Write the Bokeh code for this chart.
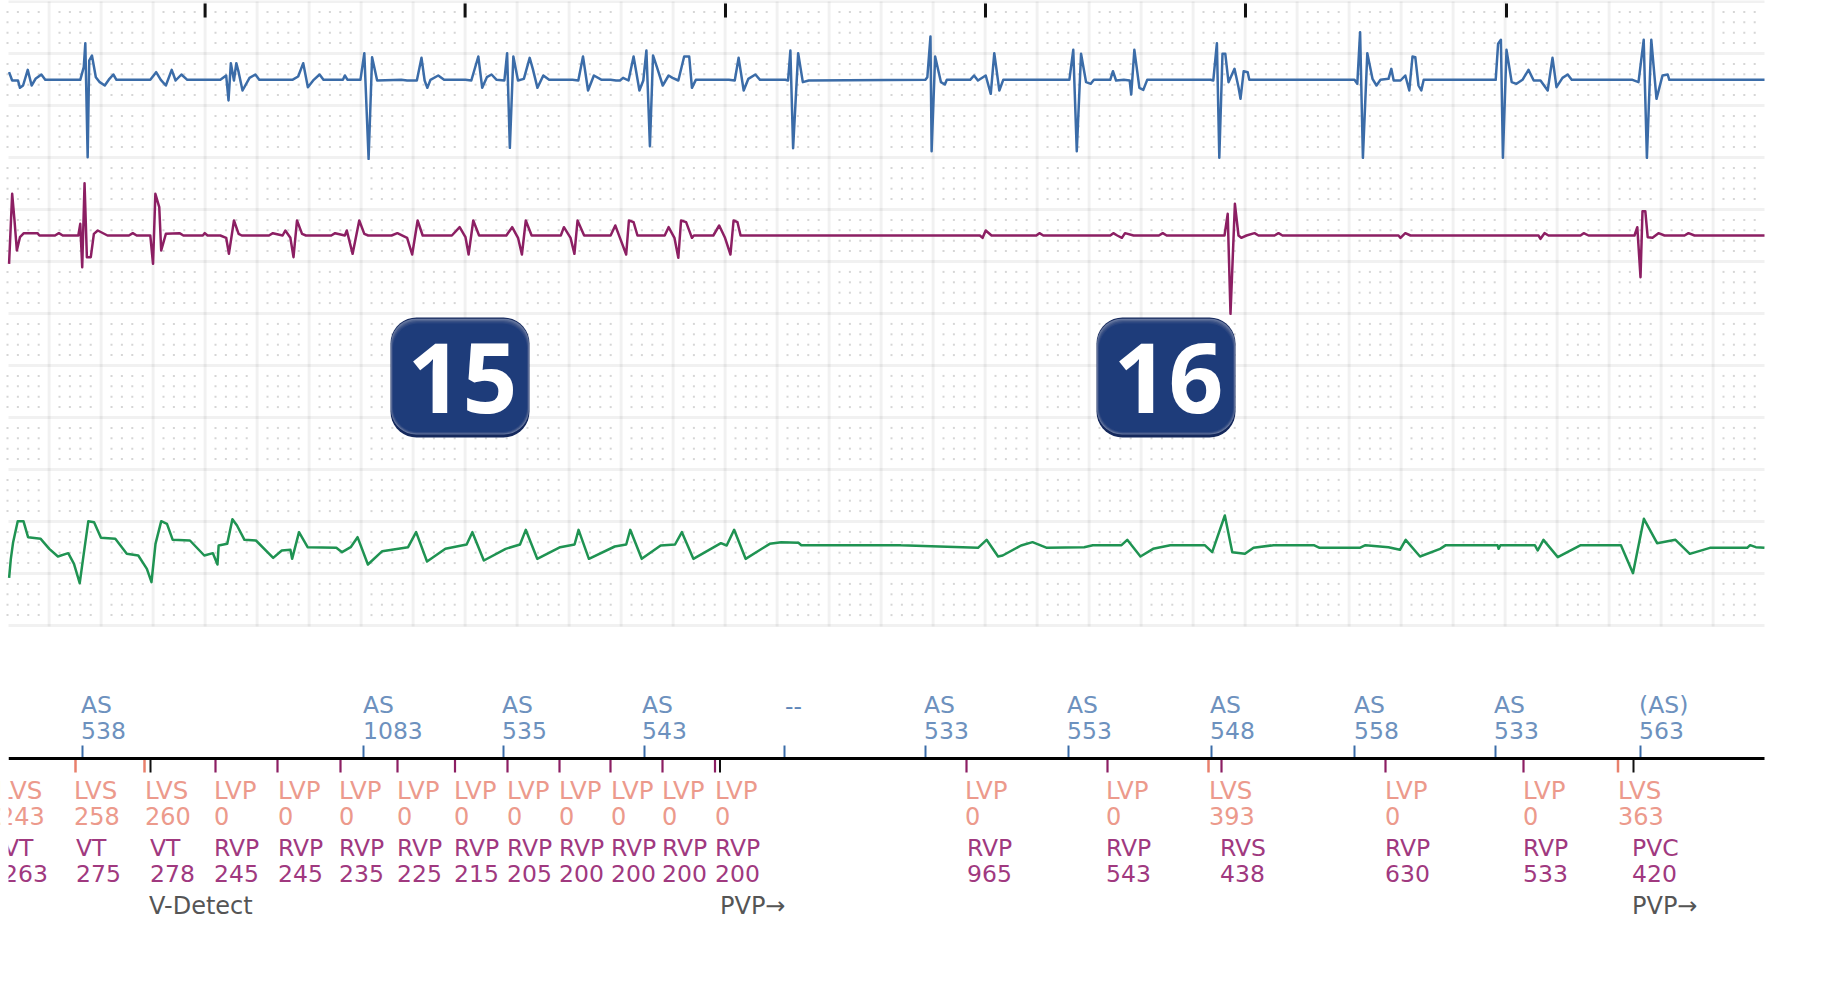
import numpy as np
from bokeh.plotting import figure
from bokeh.models import Range1d
from bokeh.core.properties import value
from bokeh.embed import file_html
from bokeh.resources import INLINE

# --- traces: (time, level) read strip by strip from the recording
blue_t1 = [22,30,45,50,58,70,80,90,105,115,205,214,218,224,228,235,245,255,268,280,290,298,385,400,412,425,440,450,465,480,565,580,586,592,600,606,612,622,640,655,665,750,765,778,790,805,820,830,880,885,892,925,935,946,955,968,1030,1045,1070,1082,1090,1097,1105,1125,1140,1195,1210,1228,1238,1250,1262,1275,1295,1302,1309,1318,1330,1345,1360,1368,1380,1395,1410,1470,1485,1497,1510,1525,1545,1568]
blue_v1 = [215,240,240,262,255,208,255,235,222,238,238,200,128,470,180,165,230,245,255,235,222,238,238,215,238,255,208,240,222,238,238,225,300,188,240,188,215,270,232,222,238,238,228,188,260,238,222,238,238,225,238,238,158,475,170,240,238,240,240,172,240,262,238,225,238,238,240,168,262,230,222,238,240,158,442,168,240,235,172,205,262,225,238,238,240,168,270,225,238,238]
blue_t2 = [26,40,50,58,72,85,92,100,110,118,127,135,145,160,175,185,200,215,228,235,245,330,345,355,368,380,398,410,475,482,488,495,508,520,535,835,840,848,851,860,875,885,890,950,960,970,990,1003,1012,1025,1035,1205,1215,1224,1235,1248,1260,1268,1310,1317,1325,1345,1360,1364,1372,1385,1395,1405,1568]
blue_v2 = [238,240,240,232,240,168,215,270,240,150,437,165,200,255,225,232,240,168,168,262,238,238,240,172,270,235,222,238,238,240,150,443,158,245,240,238,230,108,452,168,245,252,238,238,225,240,225,280,158,270,238,238,148,452,160,245,250,238,238,212,240,238,240,282,148,262,268,238,238]
blue_t3 = [25,32,41,47,55,62,70,85,95,100,108,118,122,385,392,399,406,417,430,440,450,470,477,483,500,512,522,530,537,545,552,558,738,744,751,756,765,778,790,805,820,833,850,868,880,890,905,918,928,1080,1095,1108,1116,1127,1140,1155,1168,1172,1410]
blue_v3 = [238,240,128,472,160,160,245,205,260,295,212,215,238,238,250,95,472,158,235,255,238,235,205,240,240,225,270,168,170,255,270,238,238,130,118,472,148,245,250,238,208,240,240,270,172,260,232,222,238,238,245,118,472,118,295,225,222,238,238]

wine_t1 = [22,30,36,42,50,60,95,100,140,150,160,200,205,210,216,222,232,240,250,275,330,340,350,385,392,398,408,413,425,460,470,520,525,532,565,580,587,600,612,620,690,700,725,732,745,753,762,775,785,850,860,885,890,905,922,935,945,1005,1020,1045,1058,1072,1085,1160,1180,1195,1203,1215,1230,1300,1315,1330,1340,1350,1365,1440,1448,1465,1475,1483,1500,1568]
wine_v1 = [790,580,660,750,710,698,698,705,705,698,705,705,670,800,548,770,770,700,690,705,705,698,705,705,790,580,620,750,700,698,705,705,698,705,705,712,760,660,700,705,705,698,705,690,712,770,660,700,705,705,698,705,690,760,660,700,705,705,698,712,762,660,705,705,680,710,762,660,705,705,680,712,762,660,705,705,680,712,760,660,705,705]
wine_t2 = [26,38,50,66,73,85,95,165,175,190,200,207,220,235,240,290,305,320,334,342,352,360,975,982,990,1005,1120,1128,1138,1310,1318,1328,1340,1348,1370,1435,1445,1455,1568]
wine_v2 = [705,675,712,762,660,665,705,705,680,712,772,660,665,712,705,705,675,712,762,660,665,705,705,712,690,705,705,698,705,705,698,705,712,698,705,705,698,705,705]
wine_t3 = [25,60,68,75,86,95,102,115,135,145,185,195,205,495,500,512,525,845,850,860,870,950,958,970,1085,1092,1100,1105,1112,1118,1130,1145,1160,1210,1220,1235,1410]
wine_v3 = [705,705,640,940,610,705,712,705,698,705,705,698,705,705,712,698,705,705,715,698,705,705,698,705,705,680,830,632,632,710,712,698,705,705,698,705,705]

green_t1 = [15,18,22,30,40,48,70,85,100,118,128,138,145,153,163,175,200,220,240,255,263,270,280,290,300,330,355,370,378,380,395,404,412,425,445,475,490,505,508,520,535,585,595,610,622,640,665,710,724,743,775,812,822,842,880,905,915,935,975,1000,1007,1025,1070,1090,1097,1117,1150,1175,1187,1207,1255,1265,1278,1298,1340,1360,1390,1395,1568]
green_v1 = [232,175,125,62,62,110,115,145,168,158,190,248,160,62,65,112,115,160,165,205,245,130,62,70,118,120,165,158,192,135,130,56,75,118,120,172,150,148,175,95,140,142,155,140,110,192,152,140,95,183,145,132,95,180,145,132,88,175,140,132,88,175,138,132,88,175,135,132,95,175,128,135,88,175,130,125,127,134,134]
green_t2 = [0,135,150,170,178,210,230,255,320,335,385,395,418,440,470,530,543,565,578,600,615,650,720,730,800,810,850,870,880,905,940,950,1040,1042,1045,1105,1110,1120,1145,1185,1255,1276,1295,1318,1350,1375,1410,1475,1480,1490,1505]
green_v2 = [134,142,118,168,165,135,125,142,140,134,134,118,168,145,134,134,155,45,155,160,142,134,134,142,142,134,140,148,118,168,145,134,134,145,134,134,150,118,170,134,134,218,55,128,118,160,142,142,134,140,142]

# --- timeline annotations
as_x = [82, 364, 503, 643, 925, 1068, 1211, 1355, 1495, 1640]
as_top = ["AS", "AS", "AS", "AS", "AS", "AS", "AS", "AS", "AS", "(AS)"]
as_val = ["538", "1083", "535", "543", "533", "553", "548", "558", "533", "563"]
as_tick_x = [82, 363, 503, 644, 784, 925, 1068, 1211, 1354, 1495, 1640]

lv_x = [0, 75, 146, 215, 279, 340, 398, 455, 508, 560, 612, 663, 716, 966, 1107, 1210, 1386, 1524, 1619]
lv_top = ["LVS", "LVS", "LVS", "LVP", "LVP", "LVP", "LVP", "LVP", "LVP", "LVP", "LVP", "LVP", "LVP", "LVP", "LVP", "LVS", "LVP", "LVP", "LVS"]
lv_val = ["243", "258", "260", "0", "0", "0", "0", "0", "0", "0", "0", "0", "0", "0", "0", "393", "0", "0", "363"]

rv_x = [4, 77, 151, 215, 279, 340, 398, 455, 508, 560, 612, 663, 716, 968, 1107, 1221, 1386, 1524, 1633]
rv_top = ["VT", "VT", "VT", "RVP", "RVP", "RVP", "RVP", "RVP", "RVP", "RVP", "RVP", "RVP", "RVP", "RVP", "RVP", "RVS", "RVP", "RVP", "PVC"]
rv_val = ["263", "275", "278", "245", "245", "235", "225", "215", "205", "200", "200", "200", "200", "965", "543", "438", "630", "533", "420"]

note_x = [150, 721, 1633]
note_text = ["V-Detect", "PVP\u2192", "PVP\u2192"]

coral_ticks = [75, 144, 1208, 1617.5]
wine_ticks = [215, 277, 340, 397, 454.5, 507, 559, 610, 662, 714.5, 966, 1107, 1221, 1385, 1523]
black_ticks = [150, 719.5, 1633]
second_ticks = [204.6, 464.6, 725, 985, 1245, 1506]

badge_x = [390, 1096]
badge_label = ["15", "16"]

# --- page frame: data coordinates follow the picture's pixels
L, R, T, B = 8, 1764, 1, 626
MAJOR = 52.0
MINOR = 10.4
p = figure(width=1811, height=991, x_range=Range1d(0, 1811), y_range=Range1d(991, 0),
           x_axis_type=None, y_axis_type=None, toolbar_location=None,
           output_backend="svg", min_border=0, outline_line_color=None,
           background_fill_color="white", border_fill_color="white")
p.grid.visible = False

# paper grid
v_lines = np.arange(48.6, R, MAJOR)
h_lines = np.arange(T, B + 1, MAJOR)
p.segment(v_lines, T, v_lines, B, line_color="#000000", line_alpha=0.055, line_width=3)
p.segment(L, h_lines, R, h_lines, line_color="#000000", line_alpha=0.055, line_width=3)

dx = np.array([x for x in np.arange(48.6 - 4 * MINOR, R - 4, MINOR)
               if abs(((x - 48.6) / MAJOR) - round((x - 48.6) / MAJOR)) > 0.05])
dy = np.array([y for y in np.arange(T, B, MINOR)
               if abs(((y - T) / MAJOR) - round((y - T) / MAJOR)) > 0.05])
gx, gy = np.meshgrid(dx, dy)
p.scatter(gx.ravel(), gy.ravel(), size=2, marker="square", fill_color="#d6d6d6", line_color=None)

# second ticks
p.segment(second_ticks, 3, second_ticks, 17, line_color="#111111", line_width=3)


def px(t1, t2, t3):
    return np.concatenate([np.array(t1) / 2.57, 600 + np.array(t2) / 2.57, 1200 + np.array(t3) / 2.5])


p.line(px(blue_t1, blue_t2, blue_t3), np.array(blue_v1 + blue_v2 + blue_v3) / 3,
       line_color="#3b6ca8", line_width=2.5, line_join="round")
p.line(px(wine_t1, wine_t2, wine_t3), np.array(wine_v1 + wine_v2 + wine_v3) / 3,
       line_color="#8c1f63", line_width=2.5, line_join="round")
p.line(np.concatenate([np.array(green_t1) / 1.742, 900 + np.array(green_t2) / 1.742]),
       500 + np.array(green_v1 + green_v2) / 3,
       line_color="#1f9352", line_width=2.5, line_join="round")


# badges
def rounded(l, r, t, b, rad):
    a = np.linspace(0, np.pi / 2, 10)
    xs = np.concatenate([r - rad + rad * np.sin(a), r - rad + rad * np.cos(a),
                         l + rad - rad * np.sin(a), l + rad - rad * np.cos(a)])
    ys = np.concatenate([t + rad - rad * np.cos(a), b - rad + rad * np.sin(a),
                         b - rad + rad * np.cos(a), t + rad - rad * np.sin(a)])
    return xs, ys


shades = ["#14285c", "#66779f", "#4f6391", "#3a5185", "#2a4580", "#1e3c7a"]
for bx, lab in zip(badge_x, badge_label):
    for i, c in enumerate(shades):
        if i == 0:
            xs, ys = rounded(bx, bx + 139, 317, 437, 26)
        else:
            xs, ys = rounded(bx + 0.5 * i, bx + 139 - 0.5 * i, 317 + 1.2 * i, 437 - 2.5 - 0.6 * i, 25)
        p.patch(xs, ys, fill_color=c, line_color=None)
    p.text([bx + 72], [377], text=[lab], text_color="white", text_align="center", text_baseline="middle",
           text_font=value("Open Sans"), text_font_style="bold", text_font_size="96px")

# timeline
TL = 758
p.segment(as_tick_x, 745, as_tick_x, TL, line_color="#3b6ca8", line_width=2)
p.segment(coral_ticks, TL, coral_ticks, 772, line_color="#e8806c", line_width=2.5)
p.segment(wine_ticks, TL, wine_ticks, 772, line_color="#8c1f63", line_width=2.2)
p.segment(black_ticks, TL, black_ticks, 772, line_color="#111111", line_width=2)
p.line([L, R], [TL, TL], line_color="#000000", line_width=3)

FONT = value("DejaVu Sans")


def labels(x, y, text, color, size="23.5px"):
    p.text([v - 1.5 for v in x], [y] * len(x), text=text, text_color=color, text_align="left",
           text_baseline="middle", text_font=FONT, text_font_size=size)


labels(as_x, 704, as_top, "#6d91be")
labels(as_x, 730, as_val, "#6d91be")
labels([786], 705, ["--"], "#5f86b8")
labels(lv_x, 790, lv_top, "#ec9a8c", "24.5px")
labels(lv_x, 815, lv_val, "#ec9a8c", "24px")
labels(rv_x, 847, rv_top, "#a0397f")
labels(rv_x, 873, rv_val, "#a0397f")
labels(note_x, 905, note_text, "#555555", "24px")

# the strip of paper starts at L: anything left of it is cut away
p.quad(left=0, right=L, top=640, bottom=930, fill_color="white", line_color=None)

open("out.html", "w").write(file_html(p, INLINE))
